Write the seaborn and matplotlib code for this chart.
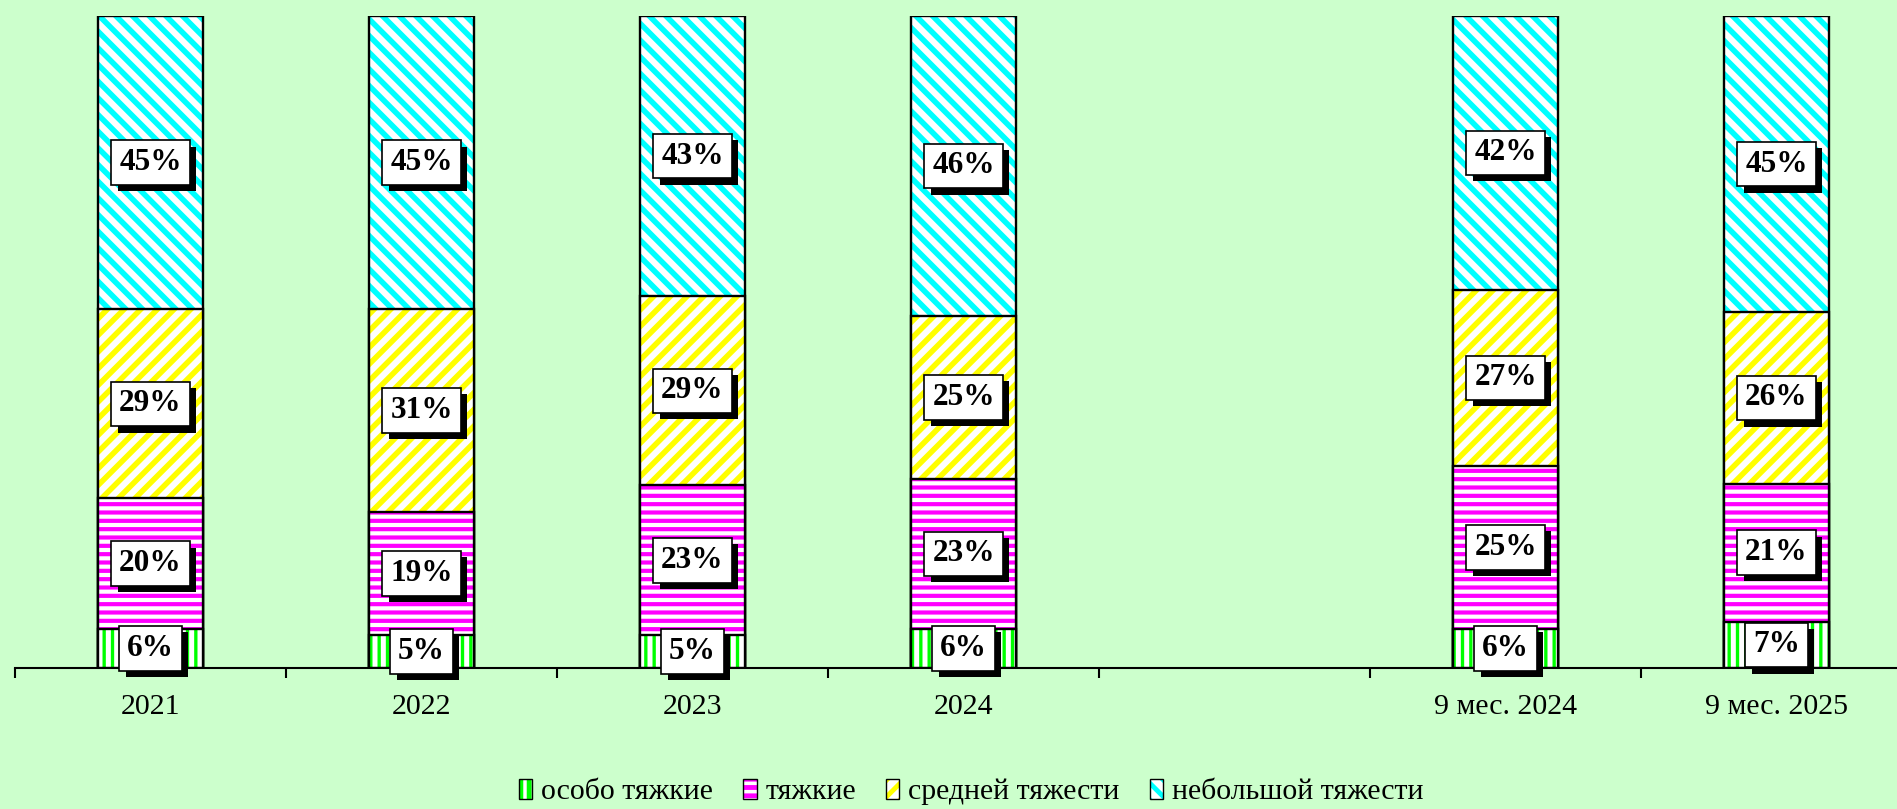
import numpy as np
import pandas as pd
import seaborn as sns
import matplotlib.pyplot as plt
from matplotlib.patches import Patch
from matplotlib import patheffects

# --- data (percent of crimes by severity)
periods = ['2021', '2022', '2023', '2024', '9 мес. 2024', '9 мес. 2025']
slots = ['2021', '2022', '2023', '2024', ' ', '9 мес. 2024', '9 мес. 2025']
severity = ['особо тяжкие', 'тяжкие', 'средней тяжести', 'небольшой тяжести']
extra_grave = [6, 5, 5, 6, 6, 7]
grave = [20, 19, 23, 23, 25, 21]
medium = [29, 31, 29, 25, 27, 26]
minor = [45, 45, 43, 46, 42, 45]

hatch_colors = ['#00FF00', '#FF00FF', '#FFFF00', '#00FFFF']
hatches = ['||', '--', '//', '\\\\']
hatch_lw = [2.4, 3.0, 4.0, 4.0]
bg = '#CCFFCC'

plt.rcParams['font.family'] = ['Liberation Serif', 'DejaVu Serif']
plt.rcParams['hatch.linewidth'] = 3.5

values = np.array([extra_grave, grave, medium, minor], dtype=float)
shares = values / values.sum(axis=0) * 100
cum = shares.cumsum(axis=0)

fig = plt.figure(figsize=(18.97, 8.09), dpi=100)
fig.patch.set_facecolor(bg)
ax = fig.add_axes([15 / 1897, 141 / 809, 1.0, 652 / 809])
ax.set_facecolor(bg)

# stacked bars: draw cumulative heights from top layer down
for i in range(3, -1, -1):
    n_before = len(ax.patches)
    with plt.rc_context({'hatch.linewidth': hatch_lw[i]}):
        sns.barplot(x=periods, y=cum[i], order=slots, width=0.39, color='white',
                    saturation=1, edgecolor=hatch_colors[i], linewidth=0,
                    hatch=hatches[i], ax=ax)
    for p in ax.patches[n_before:]:
        if hasattr(p, 'set_hatch_linewidth'):
            p.set_hatch_linewidth(hatch_lw[i])
    sns.barplot(x=periods, y=cum[i], order=slots, width=0.39, fill=False,
                edgecolor='black', linewidth=1.7, ax=ax)

# value labels in white boxes with a shadow
shadow = [patheffects.SimplePatchShadow(offset=(4.5, -4.5), shadow_rgbFace='black', alpha=1.0),
          patheffects.Normal()]
for j, per in enumerate(periods):
    xpos = slots.index(per)
    for i in range(4):
        y0 = cum[i][j] - shares[i][j]
        t = ax.text(xpos, y0 + shares[i][j] / 2, f'{int(values[i][j])}%',
                    ha='center', va='center', fontsize=22.5, fontweight='bold',
                    bbox=dict(boxstyle='square,pad=0.25', fc='white', ec='black', lw=1.2),
                    zorder=5)
        t.get_bbox_patch().set_path_effects(shadow)

ax.set_ylim(0, 100)
ax.set_xlim(-0.5, 6.5)
ax.yaxis.set_visible(False)
for s in ['left', 'top', 'right']:
    ax.spines[s].set_visible(False)
ax.spines['bottom'].set_linewidth(1.5)
ax.set_xticks(np.arange(-0.5, 7, 1), minor=True)
ax.tick_params(axis='x', which='minor', length=7.5, width=1.5, direction='out')
ax.tick_params(axis='x', which='major', length=0, pad=19, labelsize=21.5)
ax.set_xlabel('')

handles = []
for c, h, lw in zip(hatch_colors, hatches, hatch_lw):
    with plt.rc_context({'hatch.linewidth': lw}):
        hp = Patch(facecolor='white', edgecolor=c, hatch=h, lw=0)
    handles.append((hp, Patch(fill=False, edgecolor='black', lw=1)))
fig.legend(handles, severity, loc='center', bbox_to_anchor=(0.512, 0.021), ncol=4,
           frameon=False, fontsize=21.5, handlelength=0.45, handleheight=0.65,
           handletextpad=0.3, columnspacing=1.0)

fig.savefig('out.png', dpi=100, facecolor=bg)
